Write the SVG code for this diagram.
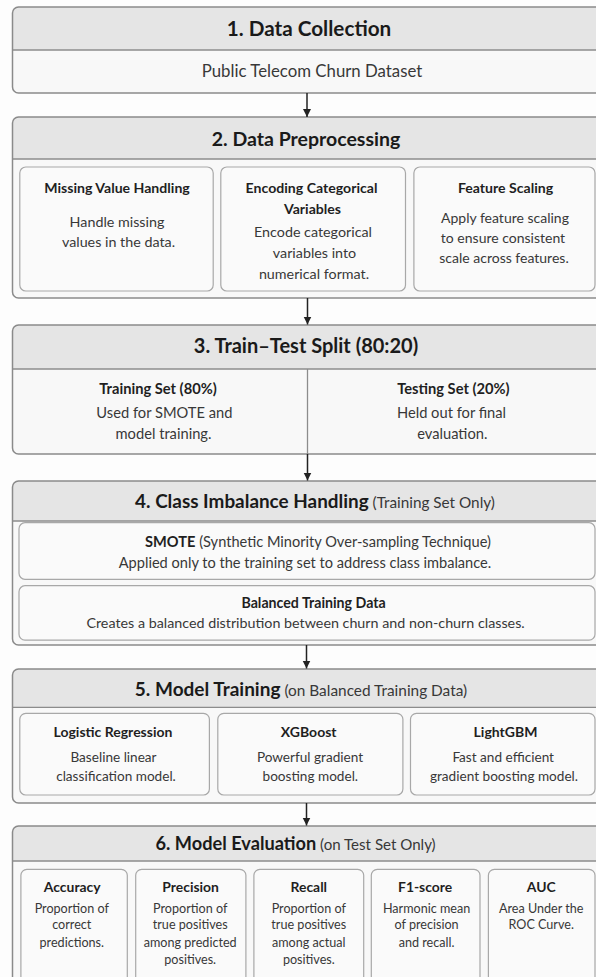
<svg xmlns="http://www.w3.org/2000/svg" width="596" height="977" viewBox="0 0 596 977">
<style>
.bg{fill:#fdfdfd}
.outer{fill:#f8f8f8;stroke:none}
.hdr{fill:#e5e5e5;stroke:none}
.sep{stroke:#8c8c8c;stroke-width:1.3}
.outline{fill:none;stroke:#8a8a8a;stroke-width:1.5}
.inner{fill:#fafafa;stroke:#a8a8a8;stroke-width:1.2}
text{font-family:Lato,"Liberation Sans",Arial,sans-serif;text-anchor:middle}
.t{font-weight:700;fill:#1a1a1a}
.h{font-weight:700;fill:#1f1f1f}
.b{font-weight:400;fill:#383838}
.conn{stroke:#222;stroke-width:1.5;fill:none}
</style>
<defs>
<marker id="ah" markerUnits="userSpaceOnUse" markerWidth="9" markerHeight="10" refX="8" refY="4.5" orient="auto">
<path d="M0,0.5 L8,4.5 L0,8.5 Z" fill="#222"/>
</marker>
</defs>
<rect class="bg" x="0" y="0" width="596" height="977"/>

<g id="node1">
<rect class="outer" x="12.5" y="7" width="590" height="86" rx="6"/>
<path class="hdr" d="M12.5,13 a6,6 0 0 1 6,-6 H596.5 a6,6 0 0 1 6,6 V50 H12.5 Z"/>
<line class="sep" x1="12.5" y1="50" x2="602.5" y2="50"/>
<rect class="outline" x="12.5" y="7" width="590" height="86" rx="6"/>
<text class="t" x="309" y="35.7" font-size="20.7">1. Data Collection</text>
<text class="b" x="312" y="77.3" font-size="16.8">Public Telecom Churn Dataset</text>
</g>

<g id="node2">
<rect class="outer" x="12.5" y="117" width="590" height="181" rx="6"/>
<path class="hdr" d="M12.5,123 a6,6 0 0 1 6,-6 H596.5 a6,6 0 0 1 6,6 V159 H12.5 Z"/>
<line class="sep" x1="12.5" y1="159" x2="602.5" y2="159"/>
<rect class="outline" x="12.5" y="117" width="590" height="181" rx="6"/>
<text class="t" x="306" y="145.7" font-size="19.5">2. Data Preprocessing</text>
<g id="node2a">
<rect class="inner" x="19.8" y="167" width="193.4" height="124" rx="6"/>
<text class="h" x="117" y="192.7" font-size="14.1">Missing Value Handling</text>
<text class="b" x="117" y="227.3" font-size="14.3">Handle missing</text>
<text class="b" x="118.5" y="247.3" font-size="14.3">values in the data.</text>
</g>
<g id="node2b">
<rect class="inner" x="220.8" y="167" width="184.7" height="124" rx="6"/>
<text class="h" x="311.5" y="192.7" font-size="14.1">Encoding Categorical</text>
<text class="h" x="312.5" y="214.3" font-size="14.1">Variables</text>
<text class="b" x="313" y="237.3" font-size="14.3">Encode categorical</text>
<text class="b" x="314.5" y="258.3" font-size="14.3">variables into</text>
<text class="b" x="314" y="279" font-size="14.3">numerical format.</text>
</g>
<g id="node2c">
<rect class="inner" x="413.9" y="167" width="181.1" height="124" rx="6"/>
<text class="h" x="505.5" y="192.7" font-size="14.1">Feature Scaling</text>
<text class="b" x="505" y="223.3" font-size="14">Apply feature scaling</text>
<text class="b" x="503" y="243.3" font-size="14">to ensure consistent</text>
<text class="b" x="504" y="263.3" font-size="14">scale across features.</text>
</g>
</g>

<g id="node3">
<rect class="outer" x="12.5" y="325" width="590" height="129" rx="6"/>
<path class="hdr" d="M12.5,331 a6,6 0 0 1 6,-6 H596.5 a6,6 0 0 1 6,6 V369 H12.5 Z"/>
<line class="sep" x1="12.5" y1="369" x2="602.5" y2="369"/>
<line class="sep" x1="307.5" y1="369" x2="307.5" y2="454"/>
<rect class="outline" x="12.5" y="325" width="590" height="129" rx="6"/>
<text class="t" x="306" y="353.3" font-size="20">3. Train–Test Split (80:20)</text>
<text class="h" x="158" y="394.3" font-size="14.7">Training Set (80%)</text>
<text class="b" x="164.4" y="418.3" font-size="14.7">Used for SMOTE and</text>
<text class="b" x="163.5" y="439.3" font-size="14.7">model training.</text>
<text class="h" x="453.4" y="394.3" font-size="14.7">Testing Set (20%)</text>
<text class="b" x="451.5" y="418.3" font-size="14.7">Held out for final</text>
<text class="b" x="452.3" y="439.3" font-size="14.7">evaluation.</text>
</g>

<g id="node4">
<rect class="outer" x="12.5" y="481" width="590" height="164" rx="6"/>
<path class="hdr" d="M12.5,487 a6,6 0 0 1 6,-6 H596.5 a6,6 0 0 1 6,6 V521 H12.5 Z"/>
<line class="sep" x1="12.5" y1="521" x2="602.5" y2="521"/>
<rect class="outline" x="12.5" y="481" width="590" height="164" rx="6"/>
<text x="315" y="508.3"><tspan class="t" font-size="18.9">4. Class Imbalance Handling</tspan><tspan class="b" font-size="15.3"> (Training Set Only)</tspan></text>
<g id="node4a">
<rect class="inner" x="19" y="522.7" width="576" height="56.6" rx="6"/>
<text x="318" y="546.7" font-size="14.6"><tspan class="h">SMOTE</tspan><tspan class="b"> (Synthetic Minority Over-sampling Technique)</tspan></text>
<text class="b" x="305" y="568.3" font-size="14.6">Applied only to the training set to address class imbalance.</text>
</g>
<g id="node4b">
<rect class="inner" x="19" y="585.7" width="576" height="54.5" rx="6"/>
<text class="h" x="313.6" y="608.3" font-size="14.2">Balanced Training Data</text>
<text class="b" x="305.6" y="628.3" font-size="14.3">Creates a balanced distribution between churn and non-churn classes.</text>
</g>
</g>

<g id="node5">
<rect class="outer" x="12.5" y="669" width="590" height="134" rx="6"/>
<path class="hdr" d="M12.5,675 a6,6 0 0 1 6,-6 H596.5 a6,6 0 0 1 6,6 V707.3 H12.5 Z"/>
<line class="sep" x1="12.5" y1="707.3" x2="602.5" y2="707.3"/>
<rect class="outline" x="12.5" y="669" width="590" height="134" rx="6"/>
<text x="301" y="695.7"><tspan class="t" font-size="19">5. Model Training</tspan><tspan class="b" font-size="15.4"> (on Balanced Training Data)</tspan></text>
<g id="node5a">
<rect class="inner" x="19.8" y="713.3" width="189.6" height="81.7" rx="6"/>
<text class="h" x="113" y="737.3" font-size="14">Logistic Regression</text>
<text class="b" x="113.5" y="761.7" font-size="13.6">Baseline linear</text>
<text class="b" x="116" y="780.7" font-size="13.6">classification model.</text>
</g>
<g id="node5b">
<rect class="inner" x="217.8" y="713.3" width="185.1" height="81.7" rx="6"/>
<text class="h" x="308.7" y="737.3" font-size="14">XGBoost</text>
<text class="b" x="310" y="761.7" font-size="13.6">Powerful gradient</text>
<text class="b" x="310.3" y="780.7" font-size="13.6">boosting model.</text>
</g>
<g id="node5c">
<rect class="inner" x="410.5" y="713.3" width="184.5" height="81.7" rx="6"/>
<text class="h" x="505.5" y="737.3" font-size="14">LightGBM</text>
<text class="b" x="503.2" y="761.7" font-size="13.6">Fast and efficient</text>
<text class="b" x="504" y="780.7" font-size="13.6">gradient boosting model.</text>
</g>
</g>

<g id="node6">
<rect class="outer" x="12.5" y="826" width="590" height="170" rx="6"/>
<path class="hdr" d="M12.5,832 a6,6 0 0 1 6,-6 H596.5 a6,6 0 0 1 6,6 V861 H12.5 Z"/>
<line class="sep" x1="12.5" y1="861" x2="602.5" y2="861"/>
<rect class="outline" x="12.5" y="826" width="590" height="170" rx="6"/>
<text x="295.6" y="850"><tspan class="t" font-size="18.2">6. Model Evaluation</tspan><tspan class="b" font-size="15.1"> (on Test Set Only)</tspan></text>
<g id="node6a">
<rect class="inner" x="20.9" y="869.3" width="106.4" height="120" rx="6"/>
<text class="h" x="72.2" y="891.7" font-size="13.9">Accuracy</text>
<text class="b" x="71.8" y="912.7" font-size="12.6">Proportion of</text>
<text class="b" x="71.8" y="929.3" font-size="12.6">correct</text>
<text class="b" x="71.8" y="946.7" font-size="12.6">predictions.</text>
</g>
<g id="node6b">
<rect class="inner" x="135.7" y="869.3" width="110.2" height="120" rx="6"/>
<text class="h" x="190.6" y="891.7" font-size="13.9">Precision</text>
<text class="b" x="190.2" y="912.7" font-size="12.6">Proportion of</text>
<text class="b" x="190.2" y="929.3" font-size="12.6">true positives</text>
<text class="b" x="190.2" y="946.7" font-size="12.6">among predicted</text>
<text class="b" x="190.2" y="964" font-size="12.6">positives.</text>
</g>
<g id="node6c">
<rect class="inner" x="253.9" y="869.3" width="109.8" height="120" rx="6"/>
<text class="h" x="308.8" y="891.7" font-size="13.9">Recall</text>
<text class="b" x="308.8" y="912.7" font-size="12.6">Proportion of</text>
<text class="b" x="308.8" y="929.3" font-size="12.6">true positives</text>
<text class="b" x="308.8" y="946.7" font-size="12.6">among actual</text>
<text class="b" x="308.8" y="964" font-size="12.6">positives.</text>
</g>
<g id="node6d">
<rect class="inner" x="371.3" y="869.3" width="108.7" height="120" rx="6"/>
<text class="h" x="425.1" y="891.7" font-size="13.9">F1-score</text>
<text class="b" x="426.6" y="912.7" font-size="12.6">Harmonic mean</text>
<text class="b" x="426.6" y="929.3" font-size="12.6">of precision</text>
<text class="b" x="426.6" y="946.7" font-size="12.6">and recall.</text>
</g>
<g id="node6e">
<rect class="inner" x="488.4" y="869.3" width="106.6" height="120" rx="6"/>
<text class="h" x="541.2" y="891.7" font-size="13.9">AUC</text>
<text class="b" x="541.2" y="912.7" font-size="12.6">Area Under the</text>
<text class="b" x="541.2" y="929.3" font-size="12.6">ROC Curve.</text>
</g>
</g>

<g id="connectors">
<line class="conn" x1="307" y1="93" x2="307" y2="117" marker-end="url(#ah)"/>
<line class="conn" x1="307.5" y1="298" x2="307.5" y2="324.5" marker-end="url(#ah)"/>
<line class="conn" x1="307.5" y1="454" x2="307.5" y2="480.5" marker-end="url(#ah)"/>
<line class="conn" x1="306.5" y1="645" x2="306.5" y2="668.5" marker-end="url(#ah)"/>
<line class="conn" x1="306.5" y1="803" x2="306.5" y2="825.5" marker-end="url(#ah)"/>
</g>
</svg>
